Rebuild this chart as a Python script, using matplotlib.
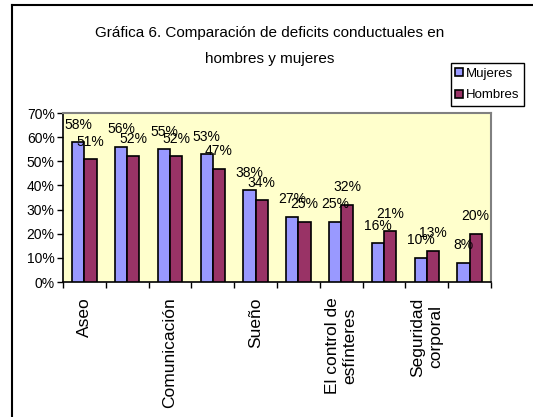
import numpy as np
import matplotlib.pyplot as plt
from matplotlib.lines import Line2D

plt.rcParams["font.family"] = ["Liberation Sans", "DejaVu Sans"]

TITLE = "Gráfica 6. Comparación de deficits conductuales en\nhombres y mujeres"
CATEGORIES = ["Aseo", "", "Comunicación", "", "Sueño", "",
              "El control de\nesfínteres", "", "Seguridad\ncorporal", ""]
MUJERES = [58, 56, 55, 53, 38, 27, 25, 16, 10, 8]
HOMBRES = [51, 52, 52, 47, 34, 25, 32, 21, 13, 20]
SERIES = ["Mujeres", "Hombres"]
COLORS = ["#9999FF", "#993366"]

fig = plt.figure(figsize=(5.33, 4.17), dpi=100)
ax = fig.add_axes([63/533, 1 - 282/417, (491 - 63)/533, (282 - 113)/417])
ax.set_facecolor("#FFFFCC")

n = len(MUJERES)
x = np.arange(n)
w = 1/3.5

for vals, off, col in [(MUJERES, -w/2, COLORS[0]), (HOMBRES, w/2, COLORS[1])]:
	ax.bar(x + off, vals, width=w, color=col, edgecolor="black", linewidth=1.2, zorder=3)
	for xi, v in zip(x + off, vals):
		ax.annotate(f"{v}%", (xi, v), xytext=(0, 12.5), textcoords="offset points",
			ha="center", va="center", fontsize=10, zorder=4)

ax.set_xlim(-0.5, n - 0.5)
ax.set_ylim(0, 70)
ax.set_yticks(range(0, 71, 10))
ax.set_yticklabels([f"{t}%" for t in range(0, 71, 10)], fontsize=10)
ax.tick_params(axis="y", direction="out", length=4, width=1, pad=2)

ax.set_xticks(x)
ax.set_xticklabels(CATEGORIES, rotation=90, va="top", ha="center", fontsize=12.5, multialignment="center")
ax.tick_params(axis="x", which="major", length=0, pad=11)
ax.set_xticks(np.arange(-0.5, n, 1), minor=True)
ax.tick_params(axis="x", which="minor", direction="out", length=4, width=1)

for s in ["left", "bottom"]:
	ax.spines[s].set_color("black")
	ax.spines[s].set_linewidth(1.2)
for s in ["top", "right"]:
	ax.spines[s].set_color("#808080")
	ax.spines[s].set_linewidth(1.5)

fig.text(270/533, 1 - 46/417, TITLE, ha="center", va="center", fontsize=11, linespacing=2.0)

handles = [Line2D([], [], marker="s", linestyle="none", markersize=6, markerfacecolor=c,
	markeredgecolor="black", markeredgewidth=1.2) for c in COLORS]
leg = fig.legend(handles, SERIES, loc="upper right", bbox_to_anchor=(524/533, 1 - 63/417),
	fontsize=9.5, frameon=True, fancybox=False, edgecolor="black", framealpha=1,
	handlelength=0.6, handletextpad=0.2, labelspacing=0.7, borderpad=0.35, borderaxespad=0)
leg.get_frame().set_linewidth(1)

# outer chart border (only top and left visible in the crop)
fig.add_artist(Line2D([12/533, 1], [1 - 5/417, 1 - 5/417], color="black", linewidth=1.5, transform=fig.transFigure))
fig.add_artist(Line2D([12/533, 12/533], [0, 1 - 5/417], color="black", linewidth=1.5, transform=fig.transFigure))

fig.savefig("out.png", dpi=100)
